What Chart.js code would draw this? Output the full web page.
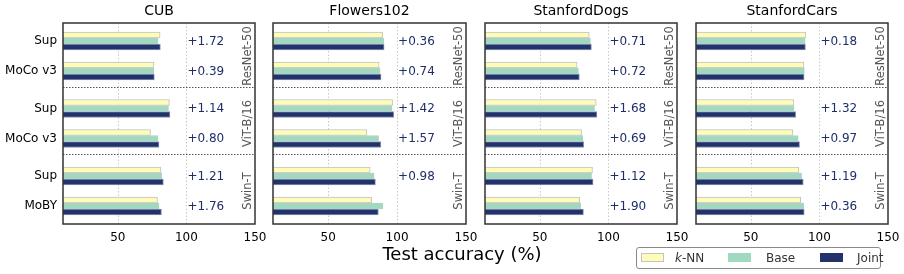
<!DOCTYPE html>
<html>
<head>
<meta charset="utf-8">
<script src="https://cdn.jsdelivr.net/npm/chart.js@4"></script>
<style>
  html, body { margin:0; padding:0; background:#fff; }
  body { width:904px; height:274px; position:relative; overflow:hidden; font-family:"DejaVu Sans", sans-serif; }
  canvas { position:absolute; top:0; }
  #xtitle { position:absolute; left:0; width:924px; text-align:center; top:243px; font-size:18px; color:#000; }
  #legend { position:absolute; left:636px; top:247px; width:245px; height:22px; border:1px solid #8a8a8a; border-radius:3px; box-sizing:border-box; font-size:12px; color:#333; background:#fff; }
  .li { position:absolute; top:3px; height:14px; line-height:14px; }
  .pt { position:absolute; top:5px; width:23px; height:9px; box-sizing:border-box; border:1px solid #bbb; }
</style>
</head>
<body>
<canvas id="c0"></canvas>
<canvas id="c1"></canvas>
<canvas id="c2"></canvas>
<canvas id="c3"></canvas>
<div id="xtitle">Test accuracy (%)</div>
<div id="legend">
  <div class="pt" style="left:4px;background:#fdfcb8;border-color:#c4c4c4"></div>
  <div class="li" style="left:38px"><i>k</i>-NN</div>
  <div class="pt" style="left:91px;background:#9fd9c0;border-color:#9fd9c0"></div>
  <div class="li" style="left:129px">Base</div>
  <div class="pt" style="left:183px;background:#22336c;border-color:#22336c"></div>
  <div class="li" style="left:220px">Joint</div>
</div>
<script>
// ---- data ----
const CATEGORIES = ['Sup', 'MoCo v3', 'Sup', 'MoCo v3', 'Sup', 'MoBY'];
const BACKBONES = ['ResNet-50', 'ViT-B/16', 'Swin-T'];
const DATASET_NAMES = ['CUB', 'Flowers102', 'StanfordDogs', 'StanfordCars'];
const X_TICKS = [50, 100, 150];

const KNN_CUB   = [80.8, 76.3, 87.6, 73.8, 81.4, 78.9];
const BASE_CUB  = [79.3, 76.2, 86.9, 79.2, 82.0, 80.0];
const JOINT_CUB = [81.0, 76.6, 88.0, 80.0, 83.2, 81.8];
const GAIN_CUB  = ['+1.72', '+0.39', '+1.14', '+0.80', '+1.21', '+1.76'];

const KNN_FLOWERS   = [89.5, 87.0, 97.0, 78.1, 80.5, 81.5];
const BASE_FLOWERS  = [90.3, 87.7, 96.2, 86.6, 83.3, 89.8];
const JOINT_FLOWERS = [90.6, 88.4, 97.6, 88.2, 84.3, 86.4];
const GAIN_FLOWERS  = ['+0.36', '+0.74', '+1.42', '+1.57', '+0.98', null];

const KNN_DOGS   = [86.0, 77.2, 91.1, 80.4, 88.4, 79.0];
const BASE_DOGS  = [86.9, 78.1, 89.9, 81.3, 87.7, 79.9];
const JOINT_DOGS = [87.6, 78.8, 91.6, 82.0, 88.8, 81.8];
const GAIN_DOGS  = ['+0.71', '+0.72', '+1.68', '+0.69', '+1.12', '+1.90'];

const KNN_CARS   = [90.1, 88.7, 81.4, 80.6, 85.0, 86.3];
const BASE_CARS  = [89.6, 89.0, 81.4, 84.5, 87.0, 88.5];
const JOINT_CARS = [89.8, 88.8, 82.7, 85.5, 88.2, 88.9];
const GAIN_CARS  = ['+0.18', null, '+1.32', '+0.97', '+1.19', '+0.36'];

const PANELS = [
  { name: DATASET_NAMES[0], knn: KNN_CUB, base: BASE_CUB, joint: JOINT_CUB, gain: GAIN_CUB },
  { name: DATASET_NAMES[1], knn: KNN_FLOWERS, base: BASE_FLOWERS, joint: JOINT_FLOWERS, gain: GAIN_FLOWERS },
  { name: DATASET_NAMES[2], knn: KNN_DOGS, base: BASE_DOGS, joint: JOINT_DOGS, gain: GAIN_DOGS },
  { name: DATASET_NAMES[3], knn: KNN_CARS, base: BASE_CARS, joint: JOINT_CARS, gain: GAIN_CARS },
];

// ---- layout (not data) ----
const ROW_POS = [0, 1, 2.25, 3.25, 4.5, 5.5];
const SEPARATORS = [1.52, 3.77];
const GROUP_CENTERS = [0.5, 2.75, 5.0];
const BAR_OFFSETS = [-0.2, 0, 0.2];
const PLOT_LEFT = [63, 273, 485, 696];
const PLOT_RIGHT = [255, 466, 677, 888];
const YAXIS_W = 63, PAD_R = 20, H = 274;
const FONT = '"DejaVu Sans", sans-serif';

const COLORS = ['#fdfcb8', '#9fd9c0', '#22336c'];
const EDGES = ['#c2c2c2', 'rgba(170,205,190,0.9)', 'rgba(120,135,170,0.9)'];

const decorPlugin = {
  id: 'decor',
  beforeDatasetsDraw(chart, args, opts) {
    const { ctx, chartArea: a, scales } = chart;
    ctx.save();
    ctx.strokeStyle = '#c8c8c8';
    ctx.lineWidth = 1;
    ctx.setLineDash([1.5, 2]);
    [50, 100].forEach(v => {
      const x = Math.round(scales.x.getPixelForValue(v)) + 0.5;
      ctx.beginPath(); ctx.moveTo(x, a.top); ctx.lineTo(x, a.bottom); ctx.stroke();
    });
    ctx.restore();
  },
  afterDatasetsDraw(chart, args, opts) {
    const { ctx, chartArea: a, scales } = chart;
    const p = opts.panel;
    ctx.save();
    // separators
    ctx.strokeStyle = '#555';
    ctx.lineWidth = 1.2;
    ctx.setLineDash([1.5, 1.5]);
    SEPARATORS.forEach(v => {
      const y = Math.round(scales.y.getPixelForValue(v)) + 0.5;
      ctx.beginPath(); ctx.moveTo(a.left, y); ctx.lineTo(a.right, y); ctx.stroke();
    });
    ctx.setLineDash([]);
    // frame
    ctx.strokeStyle = '#333';
    ctx.lineWidth = 1.5;
    ctx.strokeRect(a.left, a.top, a.right - a.left, a.bottom - a.top);
    // gains
    ctx.fillStyle = '#1f2e6a';
    ctx.font = '12px ' + FONT;
    ctx.textAlign = 'left';
    ctx.textBaseline = 'middle';
    const gx = scales.x.getPixelForValue(100) + 1;
    p.gain.forEach((g, i) => {
      if (g) ctx.fillText(g, gx, scales.y.getPixelForValue(ROW_POS[i]) + 0.5);
    });
    // backbone labels
    ctx.fillStyle = '#555';
    ctx.font = '11.5px ' + FONT;
    ctx.textAlign = 'center';
    BACKBONES.forEach((b, i) => {
      const y = scales.y.getPixelForValue(GROUP_CENTERS[i]);
      ctx.save();
      ctx.translate(a.right - 7, y);
      ctx.rotate(-Math.PI / 2);
      ctx.fillText(b, 0, 0);
      ctx.restore();
    });
    // title
    ctx.fillStyle = '#000';
    ctx.font = '14px ' + FONT;
    ctx.textAlign = 'center';
    ctx.textBaseline = 'middle';
    ctx.fillText(p.name, (a.left + a.right) / 2, 11);
    ctx.restore();
  }
};

PANELS.forEach((p, k) => {
  const cv = document.getElementById('c' + k);
  const w = PLOT_RIGHT[k] - PLOT_LEFT[k] + YAXIS_W + PAD_R;
  cv.width = w; cv.height = H;
  cv.style.width = w + 'px'; cv.style.height = H + 'px';
  cv.style.left = (PLOT_LEFT[k] - YAXIS_W) + 'px';
  const series = [p.knn, p.base, p.joint];
  const labels = ['k-NN', 'Base', 'Joint'];
  const datasets = series.map((vals, s) => ({
    label: labels[s],
    data: vals.map((v, i) => ({ x: v, y: ROW_POS[i] + BAR_OFFSETS[s] })),
    backgroundColor: COLORS[s],
    borderColor: EDGES[s],
    borderWidth: 1,
    borderSkipped: false,
    barThickness: 6,
    grouped: false,
  }));
  new Chart(cv, {
    type: 'bar',
    data: { datasets },
    options: {
      indexAxis: 'y',
      responsive: false,
      animation: false,
      devicePixelRatio: 1,
      layout: { padding: { left: 0, right: PAD_R, top: 23, bottom: 28 } },
      plugins: { legend: { display: false }, tooltip: { enabled: false }, decor: { panel: p } },
      scales: {
        x: {
          type: 'linear', min: 10, max: 150,
          afterBuildTicks: s => { s.ticks = X_TICKS.map(v => ({ value: v })); },
          afterFit: s => { s.height = 22; },
          grid: { display: false, drawTicks: false },
          border: { display: false },
          ticks: { color: '#000', font: { family: FONT, size: 12 }, padding: 7, maxRotation: 0, autoSkip: false },
        },
        y: {
          type: 'linear', min: -0.6, max: 6.1, reverse: true, offset: false,
          afterBuildTicks: s => { s.ticks = ROW_POS.map(v => ({ value: v })); },
          afterFit: s => { s.width = YAXIS_W; },
          grid: { display: false, drawTicks: false, offset: false },
          border: { display: false },
          ticks: {
            display: k === 0,
            color: '#000', font: { family: FONT, size: 12 }, padding: 6, autoSkip: false,
            callback: (v, i) => CATEGORIES[i],
          },
        },
      },
    },
    plugins: [decorPlugin],
  });
});
</script>
</body>
</html>
